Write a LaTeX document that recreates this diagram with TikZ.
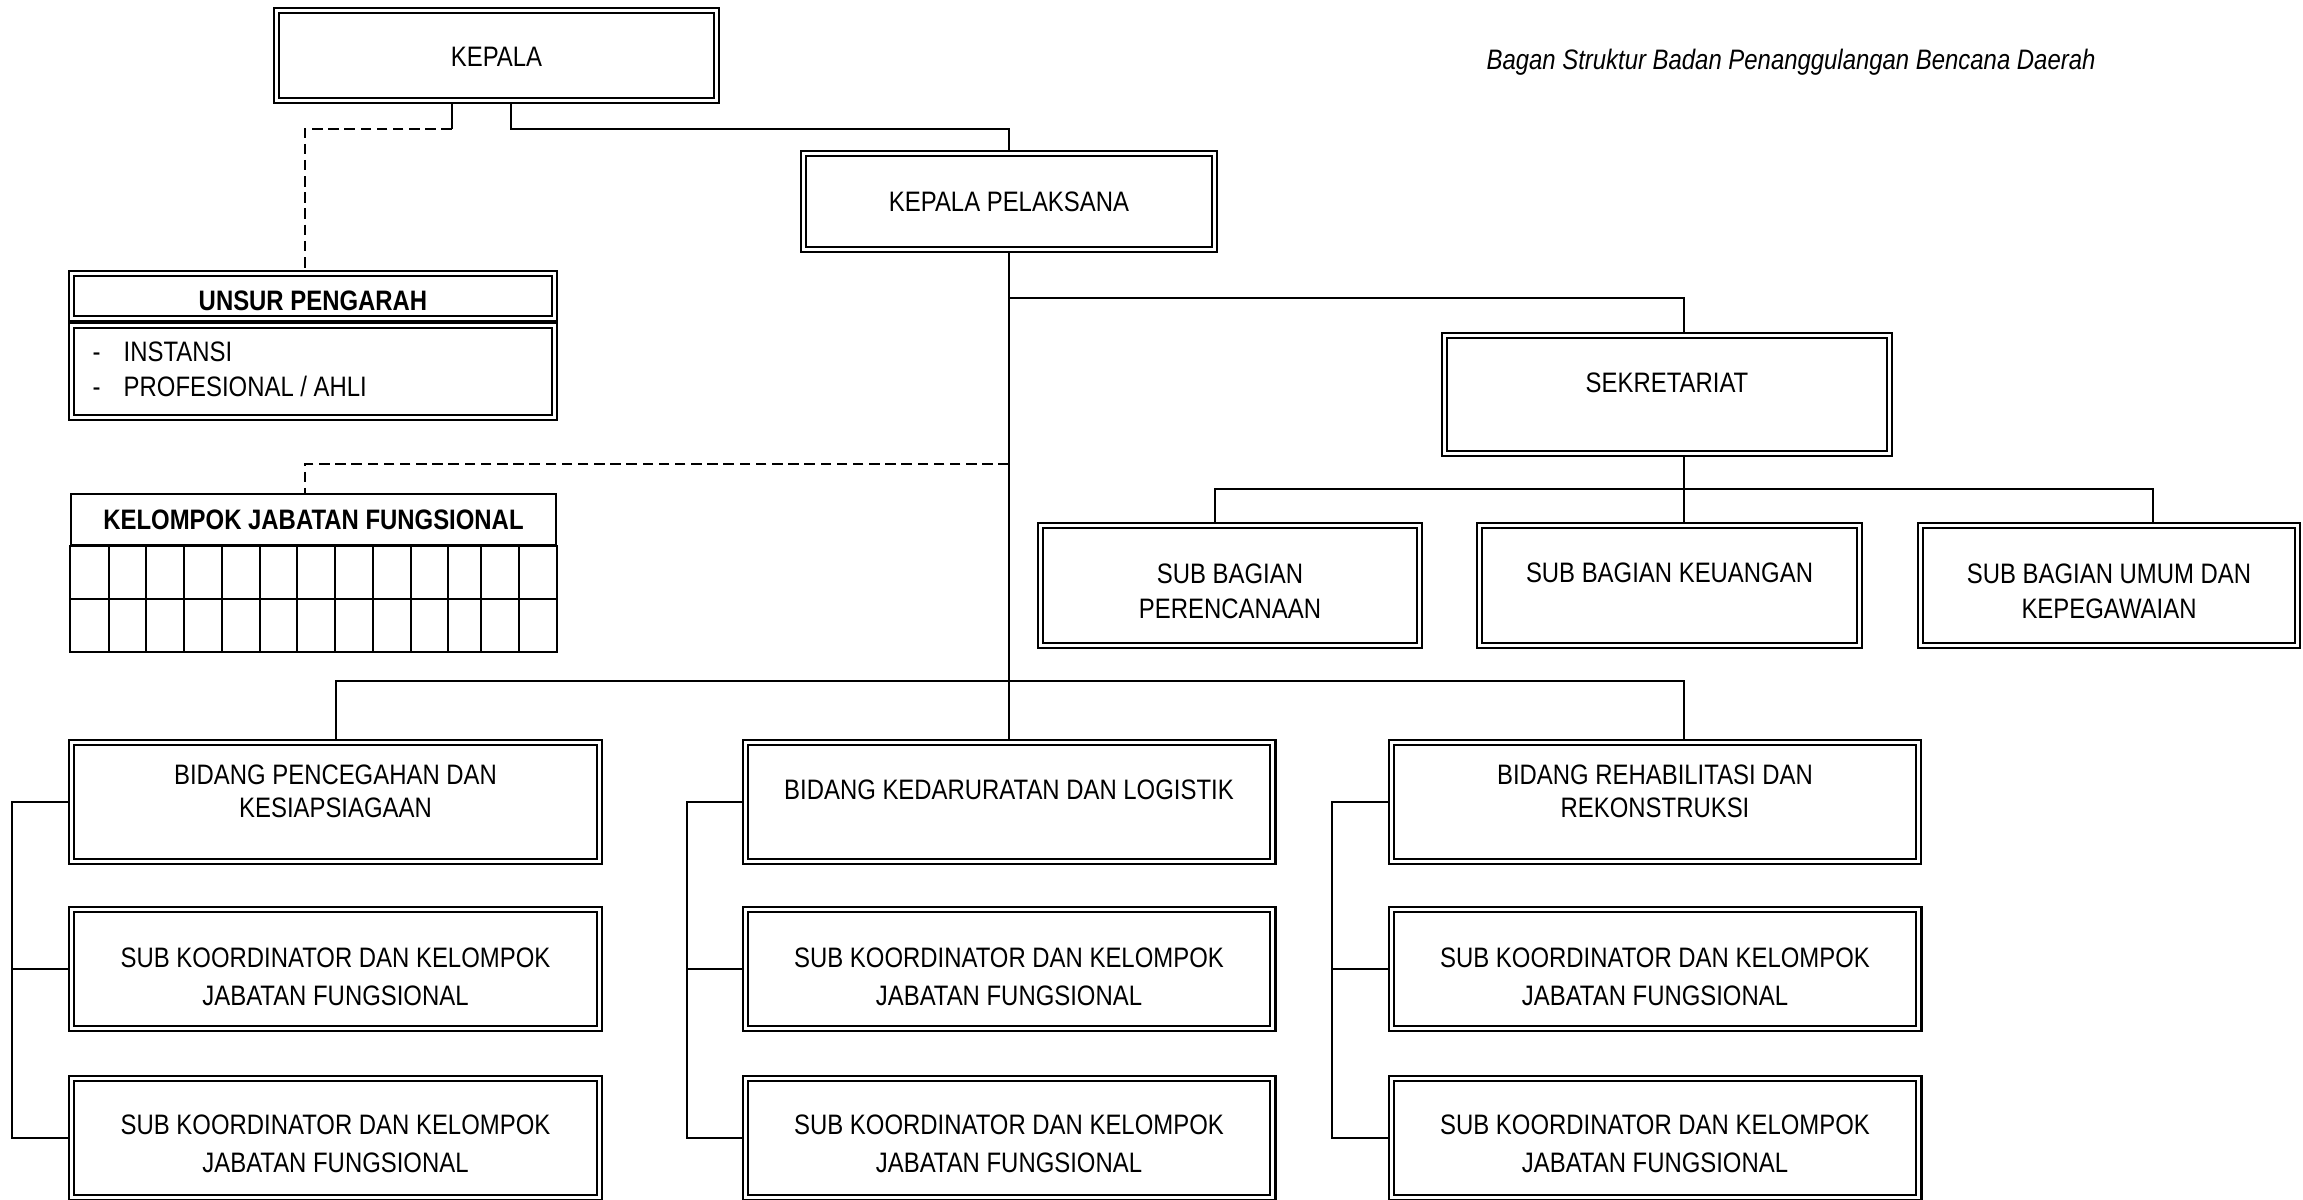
\documentclass[tikz,border=0pt]{standalone}
\usepackage{fontspec}
\setmainfont{Liberation Sans}[FakeStretch=0.85]
\usetikzlibrary{calc}

\begin{document}
\begin{tikzpicture}[x=0.01cm, y=-0.01cm, font=\fontsize{8}{10}\selectfont, line join=miter]
    \useasboundingbox (0,0) rectangle (2303,1200);

    \tikzset{
        unit/.style={draw=black, line width=0.6pt, double=white, double distance=0.9pt, inner sep=0pt, outer sep=1.05pt},
        txt/.style={align=center, inner sep=0pt},
        link/.style={draw=black, line width=0.5pt},
        dotlink/.style={link, dash pattern=on 3pt off 1.6pt},
        cell/.style={draw=black, line width=0.55pt}
    }

    \newcommand{\orgbox}[7]{%
        \node[unit, minimum width=#4*0.01cm-2.1pt, minimum height=#5*0.01cm-2.1pt] (#1) at (#2,#3) {};
        \node[txt] (#1-t) at ($(#1.center)+(0,#6)$) {#7};
    }

    % Title
    \node[txt, font=\fontsize{8}{10}\selectfont\itshape] (judul) at (1791,62)
        {Bagan Struktur Badan Penanggulangan Bencana Daerah};

    % Top level
    \orgbox{kepala}{496.5}{55.5}{447}{97}{1.5}{KEPALA}
    \orgbox{pelaksana}{1009}{201.5}{418}{103}{0}{KEPALA PELAKSANA}

    % Unsur pengarah
    \orgbox{unsurhead}{313}{296}{490}{52}{5}{\textbf{UNSUR PENGARAH}}
    \node[unit, minimum width=490*0.01cm-2.1pt, minimum height=99*0.01cm-2.1pt] (unsurbody) at (313,371.5) {};
    \node[txt, align=left, anchor=west] (unsurlist) at (92,369)
        {\makebox[0.31cm][l]{-}INSTANSI\\\makebox[0.31cm][l]{-}PROFESIONAL / AHLI};

    % Kelompok jabatan fungsional
    \node[cell, minimum width=487*0.01cm-0.55pt, minimum height=53*0.01cm-0.55pt, inner sep=0pt,
        font=\fontsize{8}{10}\selectfont\bfseries] (kelompok) at (313.5,519.5) {KELOMPOK JABATAN FUNGSIONAL};
    \draw[cell] (70,546) rectangle (557,652);
    \draw[cell] (70,599) -- (557,599);
    \foreach \gx in {109,146,184,222,260,297,335,373,411,448,481,519} {
        \draw[cell] (\gx,546) -- (\gx,652);
    }

    % Sekretariat
    \orgbox{sekretariat}{1667}{394.5}{452}{125}{-11.5}{SEKRETARIAT}
    \orgbox{subren}{1230}{585.5}{386}{127}{5.5}{SUB BAGIAN\\PERENCANAAN}
    \orgbox{subkeu}{1669.5}{585.5}{387}{127}{-12.5}{SUB BAGIAN KEUANGAN}
    \orgbox{subumum}{2109}{585.5}{384}{127}{5.5}{SUB BAGIAN UMUM DAN\\KEPEGAWAIAN}

    % Bidang
    \orgbox{bidang1}{335.5}{802}{535}{126}{-11}{BIDANG PENCEGAHAN DAN\\[-0.6pt]KESIAPSIAGAAN}
    \orgbox{bidang2}{1009}{802}{535}{126}{-12}{BIDANG KEDARURATAN DAN LOGISTIK}
    \orgbox{bidang3}{1655}{802}{534}{126}{-11}{BIDANG REHABILITASI DAN\\[-0.6pt]REKONSTRUKSI}
    \foreach \c/\cx in {1/335.5, 2/1009, 3/1655} {
        \orgbox{suba\c}{\cx}{969}{535}{126}{8}{SUB KOORDINATOR DAN KELOMPOK\\[0.8pt]JABATAN FUNGSIONAL}
        \orgbox{subb\c}{\cx}{1138}{535}{127}{6}{SUB KOORDINATOR DAN KELOMPOK\\[0.8pt]JABATAN FUNGSIONAL}
    }

    % Connectors from kepala
    \coordinate (jk1) at (452,129);
    \coordinate (jk2) at (511,129);
    \draw[link] (jk1 |- kepala.south) -- (jk1);
    \draw[dotlink] (jk1) -| ($(unsurhead.north)+(-8,0)$);
    \draw[link] (jk2 |- kepala.south) -- (jk2) -| (pelaksana.north);

    % Main trunk
    \draw[link] (pelaksana.south) -- (bidang2.north);
    \coordinate (js) at (1684,298);
    \draw[link] (js -| pelaksana.south) -- (js) -- (js |- sekretariat.north);
    \coordinate (jf) at (305,464);
    \draw[dotlink] (jf -| pelaksana.south) -- (jf) -- (jf |- kelompok.north);

    % Sub bagian
    \coordinate (jb1) at (1215,489);
    \coordinate (jb3) at (2153,489);
    \draw[link] (js |- sekretariat.south) -- (js |- subkeu.north);
    \draw[link] (jb1 |- subren.north) -- (jb1) -- (jb3) -- (jb3 |- subumum.north);

    % Bidang branch
    \coordinate (jd1) at (336,681);
    \coordinate (jd3) at (1684,681);
    \draw[link] (jd1 |- bidang1.north) -- (jd1) -- (jd3) -- (jd3 |- bidang3.north);

    % Side brackets
    \foreach \c/\bx in {1/12, 2/687, 3/1332} {
        \coordinate (bk\c) at (\bx,0);
        \draw[link] (bidang\c.west) -- (bidang\c.west -| bk\c) -- (subb\c.west -| bk\c) -- (subb\c.west);
        \draw[link] (suba\c.west -| bk\c) -- (suba\c.west);
    }
\end{tikzpicture}
\end{document}
